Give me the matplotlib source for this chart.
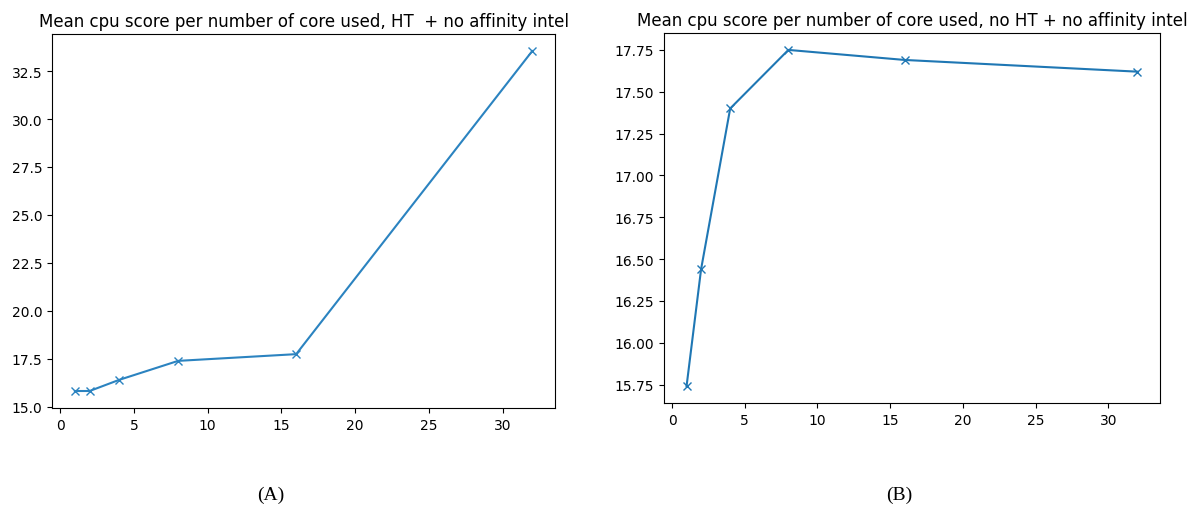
import matplotlib
matplotlib.use('Agg')
import matplotlib.pyplot as plt

# cores used
cores = [1, 2, 4, 8, 16, 32]

# mean cpu score, HT + no affinity
score_ht = [15.83, 15.83, 16.41, 17.40, 17.75, 33.54]

# mean cpu score, no HT + no affinity
score_noht = [15.74, 16.44, 17.40, 17.75, 17.69, 17.62]

fig = plt.figure(figsize=(11.96, 5.06), dpi=100)

# --- (A) ---
ax1 = fig.add_axes([0.0435, 0.1917, 0.4206, 0.739])
ax1.plot(cores, score_ht, marker='x', color='#2b83c0')
ax1.set_title('Mean cpu score per number of core used, HT  + no affinity intel', fontsize=12)
ax1.set_yticks([15.0, 17.5, 20.0, 22.5, 25.0, 27.5, 30.0, 32.5])
ax1.set_xticks([0, 5, 10, 15, 20, 25, 30])

# --- (B) ---
ax2 = fig.add_axes([0.5552, 0.2016, 0.4147, 0.731])
ax2.plot(cores, score_noht, marker='x', color='tab:blue')
ax2.set_title('Mean cpu score per number of core used, no HT + no affinity intel', fontsize=12)
ax2.set_yticks([15.75, 16.0, 16.25, 16.5, 16.75, 17.0, 17.25, 17.5, 17.75])
ax2.set_xticks([0, 5, 10, 15, 20, 25, 30])

fig.text(271 / 1196, 1 - 495 / 506, '(A)', ha='center', va='center',
         family='Liberation Serif', fontsize=14)
fig.text(899 / 1196, 1 - 495 / 506, '(B)', ha='center', va='center',
         family='Liberation Serif', fontsize=14)

plt.savefig('out.png', dpi=100)
